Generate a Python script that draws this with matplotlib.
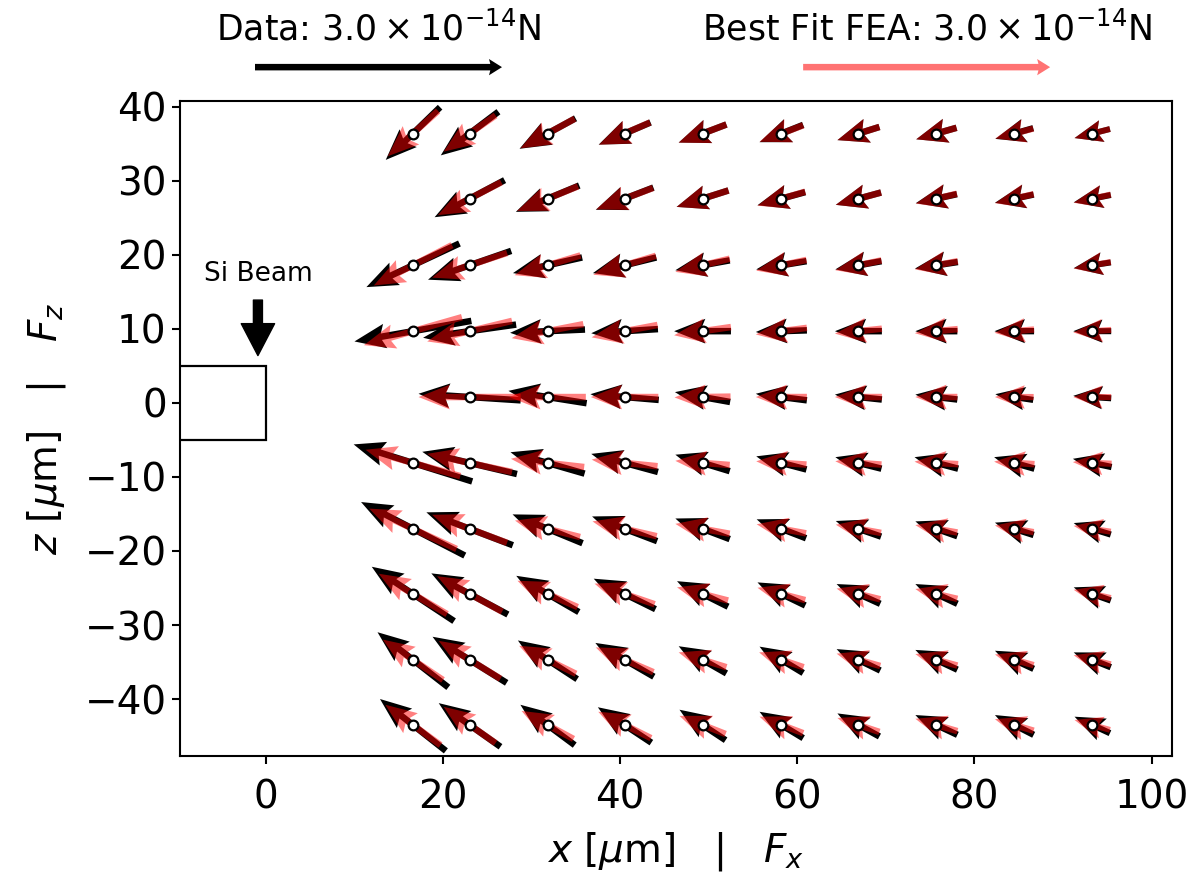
import numpy as np
import matplotlib
matplotlib.use('Agg')
import matplotlib.pyplot as plt
from matplotlib.patches import Rectangle

# grid positions (um)
x_cols = [16.6, 23.0, 31.8, 40.5, 49.3, 58.2, 66.9, 75.7, 84.5, 93.3]
z_rows = [36.4, 27.6, 18.6, 9.7, 0.8, -8.1, -17.0, -25.8, -34.7, -43.5]
nan = np.nan

# measured force (units of 1e-14 N)
data_Fx = [
    [-0.66, -0.70, -0.68, -0.63, -0.58, -0.53, -0.51, -0.49, -0.46, -0.43],
    [nan,   -0.85, -0.77, -0.70, -0.63, -0.58, -0.55, -0.50, -0.47, -0.45],
    [-1.13, -1.01, -0.84, -0.77, -0.66, -0.61, -0.56, -0.52, nan,   -0.45],
    [-1.42, -1.13, -0.91, -0.81, -0.69, -0.62, -0.57, -0.51, -0.48, -0.46],
    [nan,   -1.24, -0.95, -0.83, -0.67, -0.62, -0.57, -0.51, -0.46, -0.46],
    [-1.44, -1.15, -0.90, -0.81, -0.66, -0.61, -0.56, -0.53, -0.49, -0.47],
    [-1.26, -1.05, -0.85, -0.79, -0.66, -0.60, -0.55, -0.51, -0.47, -0.45],
    [-1.00, -0.93, -0.76, -0.75, -0.62, -0.58, -0.53, -0.51, nan,   -0.45],
    [-0.86, -0.90, -0.72, -0.71, -0.58, -0.53, -0.53, -0.51, -0.47, -0.45],
    [-0.80, -0.75, -0.66, -0.65, -0.56, -0.53, -0.51, -0.51, -0.47, -0.43],
]
data_Fz = [
    [-0.64, -0.53, -0.37, -0.27, -0.22, -0.21, -0.16, -0.14, -0.13, -0.11],
    [nan,   -0.45, -0.32, -0.27, -0.20, -0.16, -0.15, -0.11, -0.10, -0.09],
    [-0.53, -0.35, -0.19, -0.19, -0.12, -0.10, -0.10, -0.08, nan,   -0.07],
    [-0.25, -0.16, -0.04, -0.05, 0.00, -0.02, 0.00, 0.00, 0.00, 0.00],
    [nan,   0.08, 0.15, 0.07, 0.12, 0.08, 0.06, 0.06, 0.07, 0.03],
    [0.45, 0.27, 0.26, 0.22, 0.20, 0.16, 0.14, 0.14, 0.14, 0.10],
    [0.65, 0.40, 0.35, 0.30, 0.25, 0.23, 0.19, 0.18, 0.15, 0.14],
    [0.66, 0.50, 0.44, 0.37, 0.31, 0.28, 0.24, 0.24, nan,  0.16],
    [0.67, 0.56, 0.47, 0.41, 0.33, 0.32, 0.26, 0.24, 0.22, 0.18],
    [0.63, 0.53, 0.49, 0.43, 0.37, 0.32, 0.28, 0.24, 0.24, 0.20],
]

# best-fit FEA force (units of 1e-14 N)
fea_Fx = [
    [-0.61, -0.63, -0.66, -0.62, -0.58, -0.53, -0.51, -0.49, -0.46, -0.43],
    [nan,   -0.77, -0.74, -0.69, -0.63, -0.58, -0.55, -0.50, -0.47, -0.45],
    [-0.95, -0.91, -0.80, -0.76, -0.66, -0.61, -0.56, -0.52, nan,   -0.45],
    [-1.19, -1.03, -0.87, -0.80, -0.69, -0.62, -0.57, -0.52, -0.48, -0.46],
    [nan,   -1.24, -0.93, -0.82, -0.68, -0.62, -0.57, -0.51, -0.47, -0.46],
    [-1.15, -1.03, -0.89, -0.80, -0.66, -0.61, -0.56, -0.53, -0.49, -0.47],
    [-1.06, -0.91, -0.79, -0.78, -0.66, -0.60, -0.55, -0.51, -0.47, -0.45],
    [-0.83, -0.79, -0.73, -0.73, -0.62, -0.58, -0.53, -0.51, nan,   -0.45],
    [-0.73, -0.75, -0.69, -0.70, -0.58, -0.54, -0.53, -0.51, -0.47, -0.45],
    [-0.67, -0.63, -0.63, -0.64, -0.56, -0.53, -0.51, -0.51, -0.47, -0.43],
]
fea_Fz = [
    [-0.55, -0.44, -0.36, -0.27, -0.22, -0.20, -0.16, -0.14, -0.12, -0.11],
    [nan,   -0.40, -0.30, -0.26, -0.20, -0.17, -0.15, -0.12, -0.11, -0.10],
    [-0.49, -0.30, -0.24, -0.23, -0.16, -0.13, -0.12, -0.10, nan,   -0.08],
    [-0.34, -0.25, -0.17, -0.15, -0.10, -0.08, -0.06, -0.05, -0.04, -0.03],
    [nan,   0.00, 0.00, 0.00, -0.01, 0.00, 0.00, 0.00, 0.00, 0.00],
    [0.32, 0.22, 0.10, 0.08, 0.05, 0.04, 0.04, 0.03, 0.03, 0.02],
    [0.49, 0.34, 0.20, 0.18, 0.12, 0.11, 0.10, 0.09, 0.08, 0.07],
    [0.49, 0.43, 0.32, 0.25, 0.16, 0.15, 0.13, 0.12, nan,  0.10],
    [0.49, 0.46, 0.34, 0.30, 0.18, 0.18, 0.15, 0.14, 0.13, 0.11],
    [0.49, 0.44, 0.34, 0.32, 0.22, 0.20, 0.17, 0.15, 0.14, 0.12],
]

key_force = 3.0  # 1e-14 N
data_label = r'Data: $3.0\times10^{-14}$N'
fea_label = r'Best Fit FEA: $3.0\times10^{-14}$N'

fig = plt.figure(figsize=(11.88, 8.72), dpi=100)
ax = fig.add_axes([0.1515, 0.133, 0.835, 0.7512])

X, Z = np.meshgrid(x_cols, z_rows)
U = np.array(data_Fx); V = np.array(data_Fz)
Uf = np.array(fea_Fx); Vf = np.array(fea_Fz)
m = ~np.isnan(U)
mf = ~np.isnan(Uf)

scale = key_force / 2.47  # force units per inch
qargs = dict(angles='uv', units='dots', width=6.5, headwidth=3.8, headlength=4.8,
             headaxislength=4.2, minshaft=1.3, scale_units='inches', scale=scale,
             pivot='mid')
qd = ax.quiver(X[m], Z[m], U[m], V[m], color='black', zorder=2, **qargs)
qf = ax.quiver(X[mf], Z[mf], Uf[mf], Vf[mf], color='red', alpha=0.5, zorder=3, **qargs)
ax.plot(X[m], Z[m], 'o', mfc='white', mec='black', ms=7, mew=1.6, zorder=4,
        linestyle='none')

# key arrows (thin heads)
kargs = dict(angles='uv', units='dots', width=6.5, headwidth=2.5, headlength=2.0,
             headaxislength=1.8, scale_units='inches', scale=scale)
kd = ax.quiver([0], [0], [1], [0], color='black', **kargs)
kf = ax.quiver([0], [0], [1], [0], color='red', alpha=0.55, **kargs)
kd.set_visible(False)
kf.set_visible(False)
ax.quiverkey(kd, 0.3186, 0.923, key_force, data_label, labelpos='N',
             coordinates='figure', labelsep=0.2, fontproperties={'size': 25})
ax.quiverkey(kf, 0.780, 0.923, key_force, fea_label, labelpos='N',
             coordinates='figure', labelsep=0.2, fontproperties={'size': 25})

# Si beam
ax.add_patch(Rectangle((-10, -5), 10, 10, fill=False, ec='black', lw=1.6, zorder=1))
ax.annotate('', xy=(-0.9, 6.4), xytext=(-0.9, 13.9),
            arrowprops=dict(facecolor='black', edgecolor='black', width=6.5,
                            headwidth=24, headlength=23, shrink=0))
ax.text(-0.9, 15.6, 'Si Beam', ha='center', va='bottom', fontsize=19)

ax.set_xlim(-9.7, 102.3)
ax.set_ylim(-47.7, 40.8)
ax.set_xticks([0, 20, 40, 60, 80, 100])
ax.set_yticks([-40, -30, -20, -10, 0, 10, 20, 30, 40])
ax.tick_params(labelsize=28, length=6, width=1.5)
ax.tick_params(axis='x', pad=10)
for s in ax.spines.values():
    s.set_linewidth(1.5)
ax.set_xlabel(r'$x$ [$\mu$m]   |   $F_x$', fontsize=28, labelpad=10)
ax.set_ylabel(r'$z$ [$\mu$m]   |   $F_z$', fontsize=28, labelpad=12)

fig.savefig('out.png', dpi=100)
